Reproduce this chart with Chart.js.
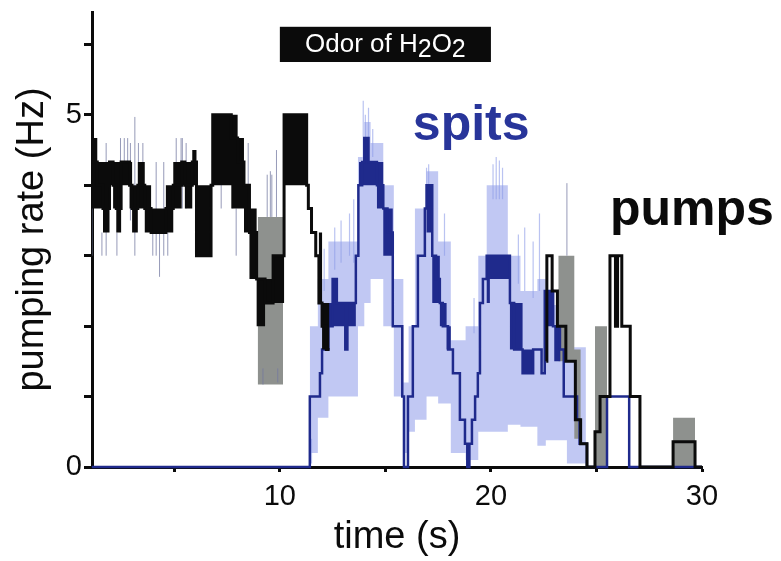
<!DOCTYPE html>
<html>
<head>
<meta charset="utf-8">
<script src="https://cdn.jsdelivr.net/npm/chart.js@4.4.1/dist/chart.umd.min.js"></script>
<style>
  html, body { margin: 0; padding: 0; background: #fff; }
  #wrap { width: 781px; height: 561px; }
</style>
</head>
<body>
<div id="wrap"><canvas id="c" width="781" height="561"></canvas></div>
<script>
// ---- axes ----
const timeTicks = [5, 10, 15, 20, 25, 30];
const timeTickLabels = ['', '10', '', '20', '', '30'];
const rateTicks = [0, 1, 2, 3, 4, 5, 6];
const rateTickLabels = ['0', '', '', '', '', '5', ''];

// stimulus window (s)
const odorWindow = [10, 20];

// pumping rate, step trace: [time s, rate Hz]; null = no trace
const pumpTrace = [
  [1.09, 4.33], [1.35, 4.0], [1.62, 3.67], [1.93, 4.33], [2.10, 4.0], [2.25, 3.67],
  [2.48, 4.33], [2.88, 4.0], [3.00, 3.67], [3.27, 4.0], [3.60, 3.67], [3.90, 3.33],
  [4.60, 3.67], [4.95, 4.0], [5.35, 4.33], [5.50, 4.0], [5.85, 4.33], [6.05, 3.0],
  [6.74, 4.0], [6.82, 5.0], [7.70, 4.67], [8.00, 4.33], [8.30, 4.0], [8.56, 3.33],
  [8.90, 2.67], [9.30, 2.33], [9.68, 3.0], [10.20, 5.0], [11.27, 4.0], [11.35, 3.67],
  [11.50, 3.33], [11.70, 3.0], [11.85, 2.33], [12.00, 2.0], [12.20, 1.67], [12.35, 1.67],
  null,
  [22.62, 1.5], [22.65, 3.0], [22.90, 2.5], [23.15, 2.0], [23.55, 1.5], [24.00, 0.67],
  [24.25, 0.33], [24.55, 0], [24.93, 0.5], [25.17, 1.0], [25.64, 3.0], [25.90, 2.0],
  [26.00, 3.0], [26.20, 2.0], [26.60, 1.0], [27.06, 0], [28.63, 0.36], [29.67, 0], [30.0, 0]
];

// fast pump fluctuations: [from s, to s, low Hz, high Hz]
const pumpBlocks = [
  [1.09, 1.35, 3.67, 4.67], [1.35, 1.62, 3.67, 4.33], [1.62, 1.93, 3.33, 4.33],
  [1.93, 2.10, 4.0, 4.33], [2.10, 2.25, 3.67, 4.33], [2.25, 2.48, 3.33, 4.33],
  [2.48, 2.88, 4.0, 4.33], [2.88, 3.00, 3.67, 4.33], [3.00, 3.27, 3.33, 4.0],
  [3.27, 3.60, 3.67, 4.33], [3.60, 3.90, 3.33, 4.0], [3.90, 4.60, 3.33, 3.67],
  [4.60, 4.95, 3.33, 4.0], [4.95, 5.35, 3.67, 4.33], [5.35, 5.50, 4.0, 4.33],
  [5.50, 5.85, 3.67, 4.33], [5.85, 6.05, 4.0, 4.5], [6.05, 6.74, 3.0, 4.0],
  [6.82, 7.70, 4.0, 5.0], [7.70, 8.00, 3.67, 5.0], [8.00, 8.30, 3.67, 4.67],
  [8.30, 8.56, 3.33, 4.0], [8.56, 8.90, 2.67, 3.67], [8.90, 9.30, 2.0, 2.67],
  [9.30, 9.68, 2.33, 2.67], [9.68, 10.20, 2.33, 3.0], [10.20, 11.27, 4.0, 5.0],
  [11.85, 12.00, 2.33, 3.33], [12.00, 12.35, 1.67, 2.33]
];

// pump rate spread: [from s, to s, low Hz, high Hz]
const pumpSpread = [
  [8.95, 10.15, 1.17, 3.55], [23.20, 23.95, 1.5, 3.0], [23.95, 24.25, 0.4, 1.67],
  [24.93, 25.50, 0, 2.0], [28.63, 29.67, 0, 0.7]
];

// single-trial pump excursions: [time s, low Hz, high Hz]
const pumpWhiskers = [
  [1.10, 3.0, 4.67], [1.57, 3.0, 3.33], [1.77, 3.0, 4.6], [2.28, 3.0, 3.33], [2.45, 4.33, 4.67],
  [2.63, 4.33, 4.67], [2.79, 4.33, 4.67], [2.92, 3.5, 4.6], [3.13, 3.0, 4.97], [3.30, 4.33, 4.6],
  [3.51, 4.33, 4.6], [3.98, 3.0, 3.33], [4.14, 3.0, 4.33], [4.30, 2.7, 3.33], [4.50, 3.0, 4.33],
  [4.69, 3.0, 3.33], [5.09, 4.33, 4.67], [5.32, 4.33, 4.67], [5.38, 3.67, 4.67], [5.56, 3.67, 4.6],
  [7.22, 3.67, 4.33], [7.77, 3.67, 4.0], [7.93, 3.0, 3.67], [8.00, 4.0, 4.6], [8.50, 4.0, 4.6],
  [9.20, 1.17, 1.4], [9.40, 3.55, 4.15], [9.55, 3.55, 4.2], [9.62, 3.55, 4.15], [9.84, 3.55, 4.5],
  [9.90, 1.2, 1.4], [23.60, 3.0, 4.03]
];

// spitting rate, step trace: [time s, rate Hz]
const spitTrace = [
  [1.09, 0], [11.42, 1.0], [11.90, 1.33], [12.00, 1.67], [12.30, 2.0], [12.50, 2.67],
  [12.70, 2.33], [13.10, 1.67], [13.20, 2.33], [13.60, 3.0], [13.72, 4.0], [13.90, 4.33],
  [14.00, 4.67], [14.20, 4.33], [14.60, 4.0], [14.90, 3.67], [15.10, 3.33], [15.35, 2.0],
  [15.80, 1.0], [15.88, 0], [16.07, 1.0], [16.30, 2.0], [16.54, 3.0], [16.87, 3.67],
  [16.95, 4.0], [17.22, 3.0], [17.40, 2.67], [17.58, 2.33], [17.72, 2.0], [17.97, 1.67],
  [18.20, 1.33], [18.53, 0.67], [18.77, 0.33], [18.88, 0], [18.98, 0.33], [19.10, 0.67],
  [19.25, 1.0], [19.38, 1.33], [19.48, 2.33], [19.62, 2.67], [19.80, 3.0], [20.90, 2.33],
  [21.10, 1.67], [21.50, 1.33], [22.00, 1.67], [22.40, 1.33], [22.55, 2.5], [22.94, 2.0],
  [23.27, 1.67], [23.45, 1.0], [24.08, 0.67], [24.20, 0.33], [24.55, 0], [25.50, 1.0],
  [26.55, 0], [30.0, 0]
];

// fast spit fluctuations: [from s, to s, low Hz, high Hz]
const spitBlocks = [
  [12.30, 12.50, 2.0, 2.33], [12.50, 12.70, 2.0, 2.67], [12.70, 13.10, 2.0, 2.33],
  [13.10, 13.20, 1.67, 2.33], [13.20, 13.60, 2.0, 2.33], [13.75, 14.00, 4.0, 4.33],
  [14.00, 14.20, 4.0, 4.67], [14.20, 14.60, 4.0, 4.33], [14.60, 14.90, 3.67, 4.33],
  [14.90, 15.35, 3.0, 3.67], [16.95, 17.22, 3.33, 4.0], [17.22, 17.58, 2.33, 3.0],
  [17.58, 17.90, 2.0, 2.33], [17.90, 18.10, 1.67, 2.0], [19.80, 19.95, 2.33, 3.0],
  [19.95, 20.90, 2.67, 3.0], [20.90, 21.50, 1.67, 2.33], [21.50, 22.00, 1.33, 1.67],
  [22.60, 23.00, 2.0, 2.5], [23.00, 23.30, 1.5, 2.0]
];

// spit rate spread: [from s, to s, low Hz, high Hz]
const spitSpread = [
  [11.42, 11.80, 0.2, 2.0], [11.80, 12.30, 0.7, 2.67], [12.30, 13.70, 1.0, 3.2],
  [13.70, 14.00, 2.0, 4.4], [14.00, 14.30, 2.33, 4.9], [14.30, 14.90, 2.67, 4.6],
  [14.90, 15.40, 2.0, 4.0], [15.40, 15.85, 1.0, 2.67], [15.85, 16.10, 0.2, 1.2],
  [16.10, 16.40, 0.5, 2.0], [16.40, 16.95, 0.67, 3.67], [16.95, 17.50, 1.0, 4.2],
  [17.50, 18.10, 0.9, 3.2], [18.10, 18.80, 0.2, 1.8], [18.80, 19.40, 0.1, 2.0],
  [19.40, 19.80, 0.5, 3.0], [19.80, 20.80, 0.5, 4.0], [20.80, 21.40, 0.6, 3.0],
  [21.40, 22.20, 0.57, 2.5], [22.20, 22.60, 0.3, 2.67], [22.60, 23.60, 0.38, 2.3],
  [23.60, 24.50, 0.05, 1.7]
];

// single-trial spit excursions: [time s, low Hz, high Hz]
const spitWhiskers = [
  [11.50, 0.05, 0.4], [12.10, 2.5, 3.1], [12.60, 2.8, 3.4], [12.90, 2.9, 3.5], [13.30, 3.0, 3.6],
  [13.50, 2.9, 3.8], [13.95, 4.4, 5.2], [14.05, 4.6, 5.0], [14.20, 4.5, 5.1], [14.40, 4.4, 4.8],
  [16.95, 4.0, 4.25], [17.05, 4.0, 4.3], [17.80, 3.0, 3.6], [19.20, 1.9, 2.4], [20.10, 3.8, 4.3],
  [20.25, 3.8, 4.4], [20.40, 3.8, 4.35], [20.55, 3.8, 4.25], [21.30, 2.6, 3.3], [21.60, 2.5, 3.4],
  [22.00, 2.4, 3.2], [22.30, 2.5, 3.6]
];

// ---- helpers that turn the tables into line points ----
const FONT = "'Liberation Sans', Arial, Helvetica, sans-serif";
const INK = '#0b0b0b';
const NAVY = '#1f2a8c';
const CLEAR = 'rgba(0,0,0,0)';

function tracePoints(rows) {
  const pts = [];
  let lastX = rows[0][0];
  rows.forEach(r => {
    if (r === null) { pts.push({ x: lastX, y: null }); return; }
    pts.push({ x: r[0], y: r[1] });
    lastX = r[0];
  });
  return pts;
}

function bandEdges(blocks) {
  const hi = [], lo = [];
  blocks.forEach(([t0, t1, l, h], i) => {
    const prev = blocks[i - 1];
    if (prev && prev[1] < t0) {
      hi.push({ x: prev[1], y: prev[2] });
      lo.push({ x: prev[1], y: prev[2] });
    }
    hi.push({ x: t0, y: h });
    lo.push({ x: t0, y: l });
  });
  const last = blocks[blocks.length - 1];
  hi.push({ x: last[1], y: last[3] });
  lo.push({ x: last[1], y: last[2] });
  return { hi, lo };
}

function whiskerPoints(rows) {
  const pts = [];
  rows.slice().sort((a, b) => a[0] - b[0]).forEach(([t, l, h]) => {
    pts.push({ x: t, y: l }, { x: t, y: h }, { x: t, y: null });
  });
  return pts;
}

function band(blocks, color, order) {
  const e = bandEdges(blocks);
  return [
    { data: e.hi, stepped: true, fill: '+1', backgroundColor: color, borderColor: CLEAR, borderWidth: 0, order, clip: 6 },
    { data: e.lo, stepped: true, fill: false, borderColor: CLEAR, borderWidth: 0, order, clip: 6 }
  ];
}

// ---- stimulus bar and series names ----
const annotate = {
  id: 'annotate',
  afterDatasetsDraw(chart) {
    const { ctx, scales: { x, y } } = chart;
    const x0 = x.getPixelForValue(odorWindow[0]);
    const x1 = x.getPixelForValue(odorWindow[1]);
    const yTop = y.getPixelForValue(6.25);
    const yBot = y.getPixelForValue(5.75);
    ctx.save();
    ctx.fillStyle = INK;
    ctx.fillRect(x0, yTop, x1 - x0, yBot - yTop);

    const big = '26px ' + FONT, sub = '25px ' + FONT;
    const parts = [['Odor of H', big, 0], ['2', sub, 5], ['O', big, 0], ['2', sub, 5]];
    let w = 0;
    parts.forEach(p => { ctx.font = p[1]; w += ctx.measureText(p[0]).width; });
    let cx = (x0 + x1) / 2 - w / 2;
    const base = (yTop + yBot) / 2 + 8;
    ctx.fillStyle = '#fff';
    ctx.textBaseline = 'alphabetic';
    ctx.textAlign = 'left';
    parts.forEach(p => {
      ctx.font = p[1];
      ctx.fillText(p[0], cx, base + p[2]);
      cx += ctx.measureText(p[0]).width;
    });

    ctx.font = 'bold 50px ' + FONT;
    ctx.fillStyle = '#28359a';
    ctx.fillText('spits', x.getPixelForValue(16.3), y.getPixelForValue(4.64));
    ctx.fillStyle = INK;
    ctx.fillText('pumps', x.getPixelForValue(25.64), y.getPixelForValue(3.44));
    ctx.restore();
  }
};

Chart.defaults.font.family = FONT;
Chart.defaults.color = INK;

const datasets = [
  { data: tracePoints(pumpTrace), stepped: true, borderColor: INK, borderWidth: 3, fill: false, order: 1, clip: 6, spanGaps: false },
  ...band(pumpBlocks, INK, 2),
  { data: tracePoints(spitTrace), stepped: true, borderColor: NAVY, borderWidth: 2.5, fill: false, order: 3, clip: 6 },
  ...band(spitBlocks, NAVY, 4),
  { data: whiskerPoints(pumpWhiskers), borderColor: 'rgba(115,120,160,0.75)', borderWidth: 1, fill: false, order: 5, spanGaps: false },
  { data: whiskerPoints(spitWhiskers), borderColor: 'rgba(140,155,232,0.6)', borderWidth: 1.2, fill: false, order: 6, spanGaps: false },
  ...band(pumpSpread, '#8e918e', 7),
  ...band(spitSpread, 'rgba(118,134,228,0.45)', 8)
];

// empty tick labels get a tiny font so they reserve no room
const tickFont = labels => ctx => ({ size: labels[ctx.index] ? 29 : 1 });

new Chart(document.getElementById('c'), {
  type: 'line',
  data: { datasets },
  plugins: [annotate],
  options: {
    responsive: false,
    animation: false,
    events: [],
    layout: { padding: { left: 0, right: 79, top: 12, bottom: 0 } },
    elements: { point: { radius: 0, hoverRadius: 0 }, line: { tension: 0, borderJoinStyle: 'miter', borderCapStyle: 'butt' } },
    plugins: { legend: { display: false }, tooltip: { enabled: false } },
    scales: {
      x: {
        type: 'linear',
        min: 1.1,
        max: 30,
        afterFit: s => { s.height = 94; },
        afterBuildTicks: s => { s.ticks = timeTicks.map(v => ({ value: v })); },
        grid: { drawOnChartArea: false, drawTicks: true, tickLength: 5, tickWidth: 3, tickColor: INK },
        border: { display: true, width: 3, color: INK },
        ticks: {
          autoSkip: false, maxRotation: 0, padding: 8, color: INK,
          font: tickFont(timeTickLabels),
          callback: (v, i) => timeTickLabels[i]
        },
        title: { display: true, text: 'time (s)', color: INK, font: { size: 38 }, padding: { top: 0, bottom: 1 } }
      },
      y: {
        type: 'linear',
        min: 0,
        max: 6.46,
        afterFit: s => { s.width = 92; },
        afterBuildTicks: s => { s.ticks = rateTicks.map(v => ({ value: v })); },
        grid: { drawOnChartArea: false, drawTicks: true, tickLength: 8, tickWidth: 3, tickColor: INK },
        border: { display: true, width: 3, color: INK },
        ticks: {
          autoSkip: false, padding: 2, color: INK,
          font: tickFont(rateTickLabels),
          callback: (v, i) => rateTickLabels[i]
        },
        title: { display: true, text: 'pumping rate (Hz)', color: INK, font: { size: 38 }, padding: { top: 10, bottom: 0 } }
      }
    }
  }
});
</script>
</body>
</html>
